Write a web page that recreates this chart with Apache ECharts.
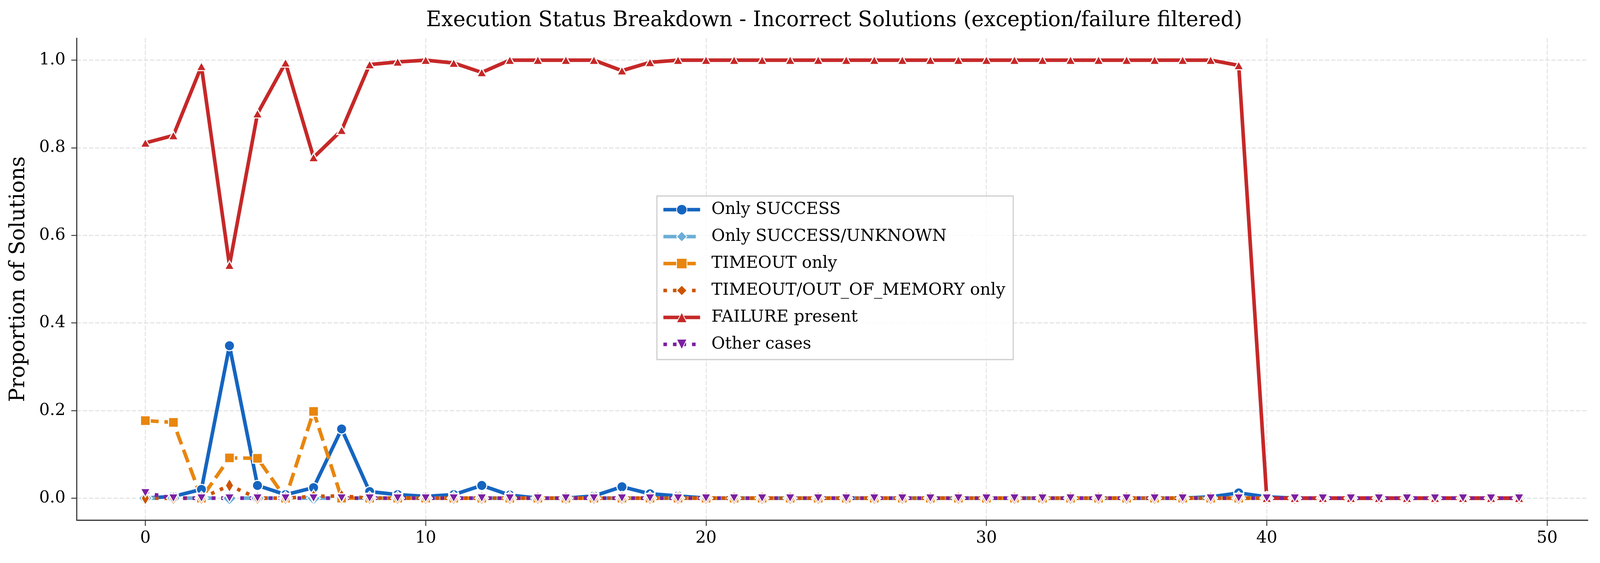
<!DOCTYPE html>
<html>
<head>
<meta charset="utf-8">
<title>Execution Status Breakdown</title>
<script src="https://cdn.jsdelivr.net/npm/echarts@6/dist/echarts.min.js"></script>
<style>
  html, body { margin: 0; padding: 0; background: #fff; overflow: hidden; }
  #chart { width: 100vw; height: 100vh; }
</style>
</head>
<body>
<div id="chart"></div>
<script>
// x positions (run index)
const runIdx = [0, 1, 2, 3, 4, 5, 6, 7, 8, 9, 10, 11, 12, 13, 14, 15, 16, 17, 18, 19,
  20, 21, 22, 23, 24, 25, 26, 27, 28, 29, 30, 31, 32, 33, 34, 35, 36, 37, 38, 39,
  40, 41, 42, 43, 44, 45, 46, 47, 48, 49];

const onlySuccess = [0, 0.004, 0.02, 0.348, 0.029, 0.008, 0.024, 0.158, 0.015, 0.008,
  0.004, 0.008, 0.029, 0.007, 0, 0, 0.005, 0.026, 0.01, 0.005,
  0, 0, 0, 0, 0, 0, 0, 0, 0, 0,
  0, 0, 0, 0, 0, 0, 0, 0, 0.003, 0.012,
  0.003, 0, 0, 0, 0, 0, 0, 0, 0, 0];

const successUnknown = [0, 0, 0, 0, 0, 0, 0, 0, 0, 0,
  0, 0, 0, 0, 0, 0, 0, 0, 0, 0,
  0, 0, 0, 0, 0, 0, 0, 0, 0, 0,
  0, 0, 0, 0, 0, 0, 0, 0, 0, 0,
  0, 0, 0, 0, 0, 0, 0, 0, 0, 0];

const timeoutOnly = [0.177, 0.173, 0, 0.092, 0.091, 0, 0.198, 0, 0, 0,
  0, 0, 0, 0, 0, 0, 0, 0, 0, 0,
  0, 0, 0, 0, 0, 0, 0, 0, 0, 0,
  0, 0, 0, 0, 0, 0, 0, 0, 0, 0,
  0, 0, 0, 0, 0, 0, 0, 0, 0, 0];

const timeoutOom = [0, 0, 0, 0.029, 0, 0, 0.004, 0.005, 0, 0,
  0, 0, 0, 0, 0, 0, 0, 0, 0, 0,
  0, 0, 0, 0, 0, 0, 0, 0, 0, 0,
  0, 0, 0, 0, 0, 0, 0, 0, 0, 0,
  0, 0, 0, 0, 0, 0, 0, 0, 0, 0];

const failurePresent = [0.811, 0.828, 0.986, 0.532, 0.878, 0.994, 0.778, 0.840, 0.990, 0.996,
  1.0, 0.9935, 0.972, 1.0, 1.0, 1.0, 1.0, 0.976, 0.995, 1.0,
  1.0, 1.0, 1.0, 1.0, 1.0, 1.0, 1.0, 1.0, 1.0, 1.0,
  1.0, 1.0, 1.0, 1.0, 1.0, 1.0, 1.0, 1.0, 1.0, 0.988,
  0, 0, 0, 0, 0, 0, 0, 0, 0, 0];

const otherCases = [0.012, 0, 0, 0, 0, 0, 0, 0, 0, 0,
  0, 0, 0, 0, 0, 0, 0, 0, 0, 0,
  0, 0, 0, 0, 0, 0, 0, 0, 0, 0,
  0, 0, 0, 0, 0, 0, 0, 0, 0, 0,
  0, 0, 0, 0, 0, 0, 0, 0, 0, 0];

const xTicks = [0, 10, 20, 30, 40, 50];
const yTicks = [0, 0.2, 0.4, 0.6, 0.8, 1.0];

// sizes below are worked out for a 4445x1442 picture; scale to the real viewport
const k = window.innerWidth / 4445;
const ky = window.innerHeight / 1442;
const px = (v) => v * k;
const py = (v) => v * ky;

const FONT = 'DejaVu Serif';
const DASHED = [px(37), px(16)];
const DOTTED = [px(10), px(16.5)];

const pairs = (vals) => vals.map((v, i) => [runIdx[i], v]);
const sz = (s) => Array.isArray(s) ? s.map(px) : px(s);

const makeSeries = (name, vals, color, dash, symbol, size, rotate) => ({
  name: name,
  type: 'line',
  data: pairs(vals),
  symbol: symbol,
  symbolSize: sz(size),
  symbolRotate: rotate || 0,
  showAllSymbol: true,
  lineStyle: { color: color, width: px(10), type: dash, cap: 'butt', join: 'round' },
  itemStyle: { color: color, borderColor: '#ffffff', borderWidth: px(3) },
  emphasis: { disabled: true },
  silent: true
});

const series = [
  makeSeries('Only SUCCESS', onlySuccess, '#1565c0', 'solid', 'circle', 28),
  makeSeries('Only SUCCESS/UNKNOWN', successUnknown, '#6baed6', DASHED, 'diamond', [38, 38]),
  makeSeries('TIMEOUT only', timeoutOnly, '#e8860e', DASHED, 'rect', 27),
  makeSeries('TIMEOUT/OUT_OF_MEMORY only', timeoutOom, '#cc5500', DOTTED, 'diamond', [23, 38]),
  makeSeries('FAILURE present', failurePresent, '#c62828', 'solid', 'triangle', [27, 24]),
  makeSeries('Other cases', otherCases, '#7b1fa2', DOTTED, 'triangle', [27, 24], 180)
];

const chart = echarts.init(document.getElementById('chart'), null, { renderer: 'canvas' });

chart.setOption({
  animation: false,
  backgroundColor: '#ffffff',
  title: {
    text: 'Execution Status Breakdown - Incorrect Solutions (exception/failure filtered)',
    left: px(2312),
    textAlign: 'center',
    top: py(22),
    textStyle: { fontFamily: FONT, fontSize: px(58), fontWeight: 'normal', color: '#000' }
  },
  grid: { left: px(213), right: px(34), top: py(98), bottom: py(110) },
  legend: {
    orient: 'vertical',
    left: px(1825),
    top: py(502),
    itemWidth: px(102),
    itemHeight: px(36),
    itemGap: py(19),
    padding: [py(10), px(22), py(14), px(13)],
    backgroundColor: 'rgba(255,255,255,0.8)',
    borderColor: '#cccccc',
    borderWidth: px(3),
    borderRadius: 0,
    lineStyle: { width: px(10), cap: 'butt' },
    itemStyle: { borderColor: '#ffffff', borderWidth: px(2) },
    textStyle: {
      fontFamily: FONT, fontSize: px(46), color: '#000',
      lineHeight: py(50), padding: [0, 0, 0, px(26)]
    },
    data: series.map(s => s.name)
  },
  xAxis: {
    type: 'value',
    min: -2.45,
    max: 51.45,
    axisLine: { show: true, onZero: false, lineStyle: { color: '#333', width: px(3) } },
    axisTick: { show: true, length: py(15), lineStyle: { color: '#333', width: px(2.5) }, customValues: xTicks },
    axisLabel: { fontFamily: FONT, fontSize: px(46), color: '#000', margin: py(26), customValues: xTicks },
    splitLine: { show: true, lineStyle: { color: '#e0e0e0', width: px(2.5), type: [px(12), px(5)] } }
  },
  yAxis: {
    type: 'value',
    min: -0.05,
    max: 1.05,
    name: 'Proportion of Solutions',
    nameLocation: 'middle',
    nameGap: px(132),
    nameTextStyle: { fontFamily: FONT, fontSize: px(58), color: '#000' },
    axisLine: { show: true, onZero: false, lineStyle: { color: '#333', width: px(3) } },
    axisTick: { show: true, length: px(15), lineStyle: { color: '#333', width: px(2.5) }, customValues: yTicks },
    axisLabel: {
      fontFamily: FONT, fontSize: px(46), color: '#000', margin: px(31),
      customValues: yTicks,
      formatter: (v) => v.toFixed(1)
    },
    splitLine: { show: true, lineStyle: { color: '#e0e0e0', width: px(2.5), type: [px(12), px(5)] } }
  },
  series: series
});

window.addEventListener('resize', () => chart.resize());
</script>
</body>
</html>
